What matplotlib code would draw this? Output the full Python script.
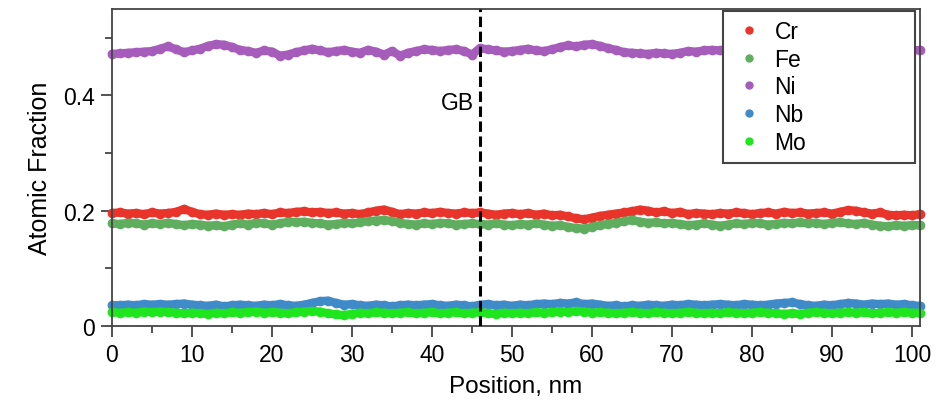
import matplotlib
matplotlib.use("Agg")
import matplotlib.pyplot as plt
from matplotlib.lines import Line2D
from matplotlib.ticker import MultipleLocator

plt.rcParams['font.family'] = ['Liberation Sans', 'DejaVu Sans']

positions = list(range(102))

cr = [0.196, 0.197, 0.195, 0.196, 0.194, 0.197, 0.195, 0.196, 0.198, 0.203,
      0.198, 0.194, 0.193, 0.195, 0.193, 0.194, 0.193, 0.195, 0.194, 0.196,
      0.194, 0.197, 0.196, 0.198, 0.199, 0.197, 0.198, 0.196, 0.197, 0.195,
      0.196, 0.194, 0.197, 0.200, 0.202, 0.198, 0.194, 0.196, 0.195, 0.197,
      0.196, 0.198, 0.196, 0.195, 0.197, 0.196, 0.197, 0.195, 0.193, 0.195,
      0.196, 0.194, 0.196, 0.193, 0.195, 0.192, 0.193, 0.190, 0.187, 0.185,
      0.188, 0.191, 0.193, 0.195, 0.197, 0.199, 0.202, 0.200, 0.197, 0.199,
      0.196, 0.198, 0.194, 0.196, 0.195, 0.194, 0.196, 0.195, 0.197, 0.196,
      0.194, 0.196, 0.197, 0.195, 0.198, 0.196, 0.197, 0.195, 0.196, 0.197,
      0.195, 0.198, 0.201, 0.200, 0.197, 0.195, 0.197, 0.193, 0.192, 0.193,
      0.192, 0.194]

fe = [0.178, 0.177, 0.179, 0.178, 0.176, 0.178, 0.177, 0.179, 0.177, 0.175,
      0.177, 0.176, 0.174, 0.175, 0.173, 0.176, 0.178, 0.176, 0.179, 0.178,
      0.176, 0.178, 0.181, 0.180, 0.181, 0.179, 0.178, 0.176, 0.177, 0.179,
      0.178, 0.180, 0.182, 0.183, 0.184, 0.182, 0.179, 0.177, 0.176, 0.178,
      0.177, 0.179, 0.178, 0.176, 0.177, 0.178, 0.177, 0.176, 0.178, 0.176,
      0.175, 0.177, 0.176, 0.178, 0.176, 0.174, 0.175, 0.172, 0.170, 0.169,
      0.172, 0.175, 0.177, 0.179, 0.182, 0.184, 0.181, 0.179, 0.180, 0.178,
      0.179, 0.177, 0.175, 0.176, 0.178, 0.176, 0.174, 0.176, 0.178, 0.177,
      0.179, 0.178, 0.176, 0.177, 0.179, 0.178, 0.180, 0.178, 0.179, 0.177,
      0.179, 0.180, 0.178, 0.177, 0.179, 0.176, 0.174, 0.173, 0.175, 0.174,
      0.175, 0.175]

ni = [0.472, 0.473, 0.474, 0.475, 0.476, 0.477, 0.481, 0.485, 0.480, 0.475,
      0.478, 0.481, 0.486, 0.489, 0.488, 0.484, 0.479, 0.477, 0.474, 0.478,
      0.476, 0.469, 0.471, 0.475, 0.478, 0.481, 0.478, 0.475, 0.477, 0.479,
      0.476, 0.474, 0.479, 0.476, 0.471, 0.477, 0.469, 0.474, 0.477, 0.480,
      0.479, 0.477, 0.479, 0.480, 0.477, 0.471, 0.482, 0.480, 0.478, 0.476,
      0.477, 0.479, 0.481, 0.478, 0.477, 0.480, 0.484, 0.487, 0.485, 0.488,
      0.489, 0.486, 0.482, 0.479, 0.475, 0.474, 0.473, 0.472, 0.474, 0.473,
      0.472, 0.474, 0.477, 0.476, 0.478, 0.479, 0.478, 0.478, 0.476, 0.477,
      0.479, 0.478, 0.476, 0.475, 0.477, 0.479, 0.480, 0.478, 0.476, 0.477,
      0.478, 0.476, 0.475, 0.477, 0.479, 0.478, 0.477, 0.476, 0.478, 0.479,
      0.478, 0.479]

nb = [0.036, 0.036, 0.037, 0.036, 0.038, 0.037, 0.038, 0.037, 0.038, 0.039,
      0.037, 0.036, 0.035, 0.037, 0.034, 0.036, 0.037, 0.036, 0.035, 0.037,
      0.036, 0.038, 0.036, 0.035, 0.037, 0.040, 0.043, 0.044, 0.040, 0.037,
      0.038, 0.036, 0.035, 0.037, 0.036, 0.034, 0.036, 0.037, 0.036, 0.037,
      0.038, 0.036, 0.035, 0.037, 0.036, 0.034, 0.037, 0.038, 0.036, 0.037,
      0.035, 0.037, 0.036, 0.038, 0.039, 0.038, 0.040, 0.039, 0.041, 0.038,
      0.039, 0.037, 0.035, 0.036, 0.034, 0.036, 0.035, 0.037, 0.036, 0.035,
      0.037, 0.036, 0.038, 0.037, 0.036, 0.037, 0.038, 0.037, 0.036, 0.038,
      0.037, 0.036, 0.037, 0.039, 0.040, 0.041, 0.038, 0.036, 0.035, 0.037,
      0.036, 0.038, 0.040, 0.039, 0.037, 0.039, 0.038, 0.039, 0.037, 0.038,
      0.036, 0.035]

mo = [0.024, 0.023, 0.024, 0.023, 0.025, 0.024, 0.025, 0.024, 0.023, 0.022,
      0.023, 0.022, 0.021, 0.023, 0.022, 0.024, 0.023, 0.024, 0.025, 0.023,
      0.024, 0.023, 0.022, 0.024, 0.025, 0.026, 0.025, 0.022, 0.020, 0.019,
      0.021, 0.023, 0.022, 0.024, 0.023, 0.022, 0.023, 0.024, 0.022, 0.023,
      0.024, 0.022, 0.023, 0.024, 0.022, 0.023, 0.024, 0.022, 0.021, 0.023,
      0.022, 0.023, 0.022, 0.024, 0.023, 0.024, 0.025, 0.024, 0.026, 0.025,
      0.023, 0.024, 0.023, 0.022, 0.023, 0.024, 0.023, 0.022, 0.024, 0.023,
      0.022, 0.023, 0.024, 0.023, 0.022, 0.023, 0.022, 0.024, 0.023, 0.022,
      0.023, 0.024, 0.023, 0.022, 0.021, 0.022, 0.021, 0.023, 0.024, 0.023,
      0.022, 0.023, 0.024, 0.023, 0.024, 0.022, 0.023, 0.024, 0.023, 0.024,
      0.023, 0.023]

elements = ["Cr", "Fe", "Ni", "Nb", "Mo"]
series = [cr, fe, ni, nb, mo]
colors = ["#e8342a", "#5fae60", "#a65cbb", "#3f8bc9", "#1fe51f"]
gb_position = 46
gb_label = "GB"

fig = plt.figure(figsize=(9.48, 4.02), dpi=100)
ax = fig.add_axes([112/948, 1-327/402, 808/948, 317/402])

for vals, col in zip(series, colors):
    ax.plot(positions, vals, color=col, lw=6.0, marker='o', ms=7, mew=0,
            solid_capstyle='round', solid_joinstyle='round', clip_on=False, zorder=2)

ax.axvline(gb_position, color='black', lw=2.2, ls=(0, (3.4, 1.5)), zorder=3)
ax.text(gb_position - 0.7, 0.388, gb_label, ha='right', va='center', fontsize=16.5)

ax.set_xlim(0, 101)
ax.set_ylim(0, 0.55)
ax.xaxis.set_major_locator(MultipleLocator(10))
ax.xaxis.set_minor_locator(MultipleLocator(5))
ax.yaxis.set_major_locator(MultipleLocator(0.2))
ax.yaxis.set_minor_locator(MultipleLocator(0.1))
ax.yaxis.set_major_formatter(matplotlib.ticker.FuncFormatter(lambda v, p: "0" if v == 0 else f"{v:.1f}"))

spine_col = '#444444'
for s in ax.spines.values():
    s.set_color(spine_col)
    s.set_linewidth(1.3)
ax.tick_params(which='major', direction='out', length=8, width=1.3, color=spine_col,
               labelsize=16.5, pad=4)
ax.tick_params(which='minor', direction='out', length=5, width=1.3, color=spine_col)

ax.set_xlabel("Position, nm", fontsize=17.5, labelpad=7)
ax.set_ylabel("Atomic Fraction", fontsize=18, labelpad=8)

handles = [Line2D([], [], ls='none', marker='o', ms=5, color=c) for c in colors]
leg = ax.legend(handles, elements, loc='upper left',
                bbox_to_anchor=((723-112)/808, 0, (915-723)/808, (327-11.7)/317),
                mode='expand', borderaxespad=0, fontsize=16.5, handlelength=1.5,
                handletextpad=0.35, labelspacing=0.21, fancybox=False, framealpha=1,
                borderpad=0.4)
leg.get_frame().set_edgecolor('#444444')
leg.get_frame().set_linewidth(1.5)
leg.set_zorder(5)

fig.savefig("out.png", dpi=100)
